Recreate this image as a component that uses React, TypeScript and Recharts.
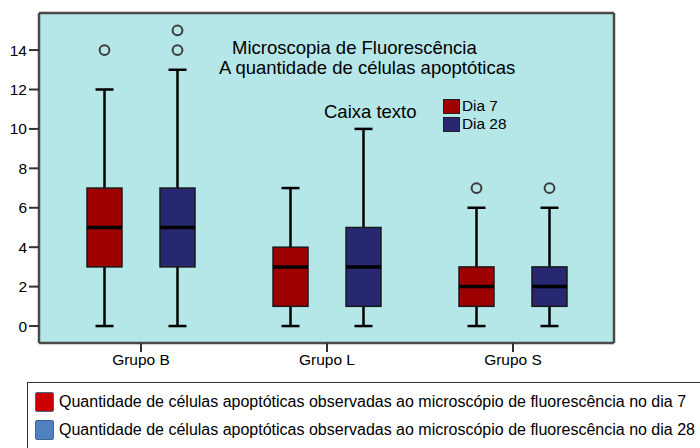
import React from "react";
import { ComposedChart, Bar, XAxis, YAxis, CartesianGrid } from "recharts";

const groups = ["Grupo B", "Grupo L", "Grupo S"];

// Dia 7
const d7Min = [0, 0, 0];
const d7Q1 = [3, 1, 1];
const d7Median = [5, 3, 2];
const d7Q3 = [7, 4, 3];
const d7Max = [12, 7, 6];
const d7Outliers = [[14], [], [7]];

// Dia 28
const d28Min = [0, 0, 0];
const d28Q1 = [3, 1, 1];
const d28Median = [5, 3, 2];
const d28Q3 = [7, 5, 3];
const d28Max = [13, 10, 6];
const d28Outliers = [[14, 15], [], [7]];

const yTicks = [0, 2, 4, 6, 8, 10, 12, 14];
const yDomain: [number, number] = [-0.86, 15.88];

const legendLabels = [
  "Quantidade de células apoptóticas observadas ao microscópio de fluorescência no dia 7",
  "Quantidade de células apoptóticas observadas ao microscópio de fluorescência no dia 28",
];

const FONT = "'Liberation Sans', Arial, Helvetica, sans-serif";
const BG = "#b5e6e8";
const RED = "#9e0000";
const NAVY = "#282872";

const data = groups.map((g, i) => ({
  group: g,
  d7: { min: d7Min[i], q1: d7Q1[i], med: d7Median[i], q3: d7Q3[i], max: d7Max[i], out: d7Outliers[i] },
  d28: { min: d28Min[i], q1: d28Q1[i], med: d28Median[i], q3: d28Q3[i], max: d28Max[i], out: d28Outliers[i] },
}));

const BoxShape = (props: any) => {
  const { x, y, width, height, payload, sKey, color } = props;
  const s = payload[sKey];
  // y/height span [min, max] on the chart's y scale; map other values linearly
  const yv = (v: number) => y + (height * (s.max - v)) / (s.max - s.min);
  const cx = x + width / 2;
  const cap = 9;
  return (
    <g>
      <line x1={cx} x2={cx} y1={yv(s.max)} y2={yv(s.q3)} stroke="#000" strokeWidth={2.5} />
      <line x1={cx} x2={cx} y1={yv(s.q1)} y2={yv(s.min)} stroke="#000" strokeWidth={2.5} />
      <line x1={cx - cap} x2={cx + cap} y1={yv(s.max)} y2={yv(s.max)} stroke="#000" strokeWidth={2.5} />
      <line x1={cx - cap} x2={cx + cap} y1={yv(s.min)} y2={yv(s.min)} stroke="#000" strokeWidth={2.5} />
      <rect x={x} y={yv(s.q3)} width={width} height={yv(s.q1) - yv(s.q3)} fill={color} stroke="#1a1a1a" strokeWidth={1.5} />
      <line x1={x} x2={x + width} y1={yv(s.med)} y2={yv(s.med)} stroke="#000" strokeWidth={3.5} />
      {s.out.map((o: number, i: number) => (
        <circle key={i} cx={cx} cy={yv(o)} r={4.9} fill="none" stroke="#3d3d3d" strokeWidth={2} />
      ))}
    </g>
  );
};

const GroupTick = (p: any) => (
  <text x={p.x} y={p.y} dy="0.71em" textAnchor="middle" fill="#000" fontSize={15.5} fontFamily={FONT}>
    {p.payload.value}
  </text>
);

// grid lines only at the plot area's edges, to act as the frame
const frameV = ({ offset }: any) => [offset.left, offset.left + offset.width];
const frameH = ({ offset }: any) => [offset.top, offset.top + offset.height];

export default function App() {
  return (
    <div style={{ position: "absolute", left: 0, top: 0, width: 700, height: 448, overflow: "hidden", background: "#fff", fontFamily: FONT }}>
      <ComposedChart
        width={700}
        height={448}
        data={data}
        margin={{ top: 13, right: 86, bottom: 75, left: 0 }}
        barSize={35}
        barGap={38}
      >
        <CartesianGrid
          fill={BG}
          stroke="#4a4a4a"
          strokeWidth={2.5}
          verticalCoordinatesGenerator={frameV}
          horizontalCoordinatesGenerator={frameH}
        />
        <XAxis
          dataKey="group"
          height={30}
          axisLine={false}
          tickSize={9}
          tickLine={{ stroke: "#333", strokeWidth: 2 }}
          padding={{ left: 9, right: 8 }}
          tick={<GroupTick />}
        />
        <YAxis
          width={39}
          type="number"
          domain={yDomain}
          ticks={yTicks}
          axisLine={false}
          tickSize={10}
          tickLine={{ stroke: "#333", strokeWidth: 2 }}
          tick={{ fill: "#000", fontSize: 15.5, fontFamily: FONT }}
        />
        <Bar
          dataKey={(d: any) => [d.d7.min, d.d7.max]}
          isAnimationActive={false}
          shape={(p: any) => <BoxShape {...p} sKey="d7" color={RED} />}
        />
        <Bar
          dataKey={(d: any) => [d.d28.min, d.d28.max]}
          isAnimationActive={false}
          shape={(p: any) => <BoxShape {...p} sKey="d28" color={NAVY} />}
        />
      </ComposedChart>

      <div style={{ position: "absolute", left: 232, top: 37, fontSize: 18.5, color: "#000", whiteSpace: "nowrap" }}>
        Microscopia de Fluorescência
      </div>
      <div style={{ position: "absolute", left: 219, top: 57, fontSize: 18.5, color: "#000", whiteSpace: "nowrap" }}>
        A quantidade de células apoptóticas
      </div>
      <div style={{ position: "absolute", left: 324, top: 101, fontSize: 18.5, color: "#000", whiteSpace: "nowrap" }}>
        Caixa texto
      </div>
      <div style={{ position: "absolute", left: 443, top: 97, fontSize: 15.4, color: "#000", lineHeight: "18px" }}>
        {[{ c: RED, t: "Dia 7" }, { c: NAVY, t: "Dia 28" }].map((it) => (
          <div key={it.t} style={{ display: "flex", alignItems: "center", height: 18 }}>
            <span style={{ width: 15, height: 13, background: it.c, border: "1px solid #222", marginRight: 2 }} />
            {it.t}
          </div>
        ))}
      </div>

      <div
        style={{
          position: "absolute",
          left: 27,
          top: 382,
          width: 700,
          height: 80,
          borderTop: "1.5px solid #333",
          borderLeft: "1.5px solid #333",
          boxSizing: "border-box",
        }}
      >
        {legendLabels.map((t, i) => (
          <div key={t} style={{ position: "absolute", left: 7, top: 9 + i * 28, display: "flex", alignItems: "center", fontSize: 16, whiteSpace: "nowrap" }}>
            <span
              style={{
                width: 19,
                height: 20,
                background: i === 0 ? "#cc0000" : "#5080bd",
                border: "1.5px solid #41648f",
                borderRadius: 2,
                marginRight: 5,
                boxSizing: "border-box",
              }}
            />
            {t}
          </div>
        ))}
      </div>
    </div>
  );
}
